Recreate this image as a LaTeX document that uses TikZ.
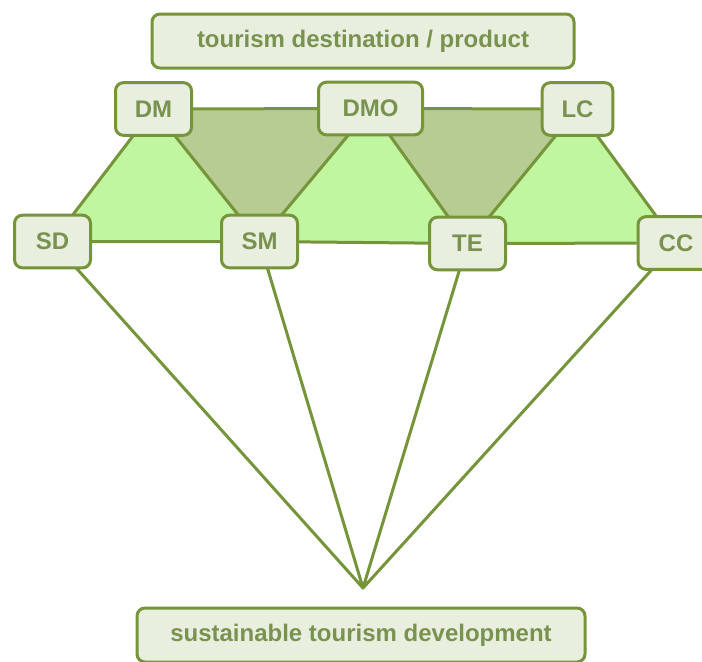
\documentclass[tikz,border=0pt]{standalone}
\usepackage{fontspec}
\setmainfont{Liberation Sans}
\usetikzlibrary{backgrounds}

\definecolor{edgegreen}{RGB}{118,148,58}
\definecolor{boxfill}{RGB}{233,239,222}
\definecolor{lightgreen}{RGB}{192,246,160}
\definecolor{darkgreen}{RGB}{182,204,146}
\definecolor{textgreen}{RGB}{122,146,80}

\tikzset{
  box/.style={draw=edgegreen, fill=boxfill, line width=2.25pt, rounded corners=6pt,
    text=textgreen, font=\fontsize{18}{20}\selectfont\bfseries, inner sep=0pt},
  smallbox/.style={box, minimum width=57pt, minimum height=39.5pt},
  widebox/.style={box, minimum height=40.5pt},
  link/.style={draw=edgegreen, line width=2.25pt}
}

\begin{document}
\begin{tikzpicture}[x=0.75pt,y=0.75pt,yscale=-1,xscale=1]
\useasboundingbox (0,0) rectangle (702,661);

% Text Node
\node[widebox, minimum width=316.5pt] (dest) at (363,41) {tourism destination / product};
\node[widebox, minimum width=336pt] (std) at (361,635) {sustainable tourism development};

% top row
\node[smallbox] (dm) at (153.5,109) {DM};
\node[smallbox, minimum width=78pt] (dmo) at (370.5,108.5) {DMO};
\node[smallbox, minimum width=53pt] (lc) at (577.5,109) {LC};
% middle row
\node[smallbox] (sd) at (52.5,241.5) {SD};
\node[smallbox] (sm) at (259.5,241.5) {SM};
\node[smallbox] (te) at (467.5,243.5) {TE};
\node[smallbox] (cc) at (676,243) {CC};

\coordinate (apex) at (363,588);

\begin{pgfonlayer}{background}
%Shape: Trapezium
\fill[lightgreen] (dm.center) -- (lc.center) -- (cc.center) -- (sd.center) -- cycle;
%Shape: Triangles
\fill[darkgreen] (dm.center) -- (dmo.center) -- (sm.center) -- cycle;
\fill[darkgreen] (dmo.center) -- (lc.center) -- (te.center) -- cycle;
%Straight Lines
\draw[link] (dm) -- (dmo) -- (lc);
\draw[link] (sd) -- (sm) -- (te) -- (cc);
\draw[link] (sd.center) -- (dm.center) -- (sm.center) -- (dmo.center) -- (te.center) -- (lc.center) -- (cc.center);
\draw[link, line join=round] (sd.center) -- (apex) -- (sm.center);
\draw[link, line join=round] (te.center) -- (apex) -- (cc.center);
\end{pgfonlayer}

\end{tikzpicture}
\end{document}
